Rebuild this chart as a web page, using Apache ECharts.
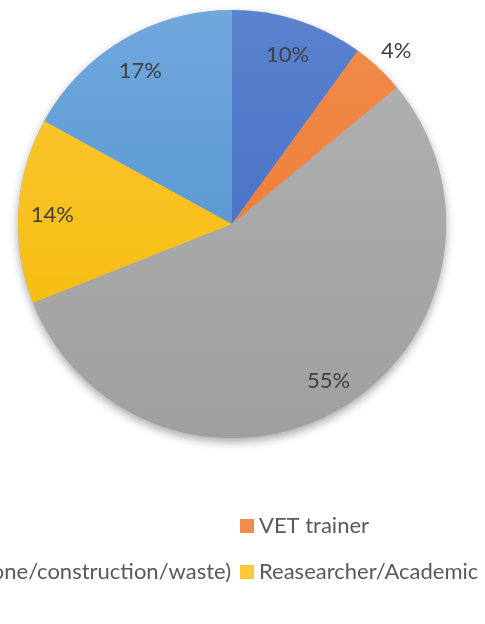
<!DOCTYPE html>
<html><head><meta charset="utf-8">
<script src="https://cdn.jsdelivr.net/npm/echarts@6/dist/echarts.min.js"></script>
<style>html,body{margin:0;padding:0;background:#fff}#c{width:485px;height:624px}</style>
</head><body><div id="c"></div>
<script>
var categories = ["Teacher", "VET trainer", "Company (stone/construction/waste)", "Reasearcher/Academic", "Other"];
var values = [10, 4, 55, 14, 17];
var colorsTop = ["#5a82cf", "#f28c4d", "#b2b2b2", "#ffc83a", "#6fa8dd"];
var colorsBottom = ["#3a66be", "#eb7227", "#9f9f9f", "#f1b900", "#4a8bcb"];

var cx = 232, cy = 224, R = 214;
function grad(i){
  return new echarts.graphic.LinearGradient(0, cy - R, 0, cy + R, [
    {offset:0, color: colorsTop[i]}, {offset:1, color: colorsBottom[i]}], true);
}
var font = "Lato, 'Open Sans', sans-serif";
var chart = echarts.init(document.getElementById('c'));
var pieData = categories.map(function(n,i){ return {name:n, value:values[i], itemStyle:{color:grad(i)}}; });
var labelInner = categories.map(function(n,i){
  var lb = {show: i!==1};
  if (i === 2) lb.padding = [0, 0, 14, 10];
  return {name:n, value:values[i], label:lb};
});
var labelOuter = categories.map(function(n,i){ return {name:n, value:values[i], label:{show: i===1}}; });
var legendText = {fontSize:22, color:'#595959', fontFamily:font};

chart.setOption({
  animation:false,
  legend:[
    {data:["VET trainer"], left:240, top:515, padding:0, icon:'rect', itemWidth:14, itemHeight:14, textStyle:legendText},
    {data:["Reasearcher/Academic"], left:240, top:561, padding:0, icon:'rect', itemWidth:14, itemHeight:14, textStyle:legendText},
    {data:["Company (stone/construction/waste)"], right:254, top:561, padding:0, icon:'rect', itemWidth:14, itemHeight:14, textStyle:legendText}
  ],
  series:[
    {type:'pie', silent:true, center:[cx, cy], radius:[0, R], startAngle:90, clockwise:true,
     data:[{value:1, name:'_bg', itemStyle:{color:'#a8a8a8', shadowBlur:10, shadowOffsetY:4, shadowColor:'rgba(0,0,0,0.35)'}}],
     label:{show:false}, labelLine:{show:false}, z:1},
    {type:'pie', center:[cx, cy], radius:[0, R], startAngle:90, clockwise:true, data:pieData,
     label:{show:false}, labelLine:{show:false}, itemStyle:{borderWidth:0}, z:2},
    {type:'pie', silent:true, center:[cx, cy + 2], radius:[140, 214], startAngle:90, clockwise:true, data:labelInner,
     itemStyle:{color:'rgba(0,0,0,0)'}, labelLine:{show:false},
     label:{position:'inside', formatter:'{c}%', fontSize:22, color:'#404040', fontFamily:font}, z:3},
    {type:'pie', silent:true, center:[cx, cy + 2], radius:[222, 252], startAngle:90, clockwise:true, data:labelOuter,
     itemStyle:{color:'rgba(0,0,0,0)'}, labelLine:{show:false},
     label:{position:'inside', formatter:'{c}%', fontSize:22, color:'#404040', fontFamily:font}, z:3}
  ]
});
</script></body></html>
